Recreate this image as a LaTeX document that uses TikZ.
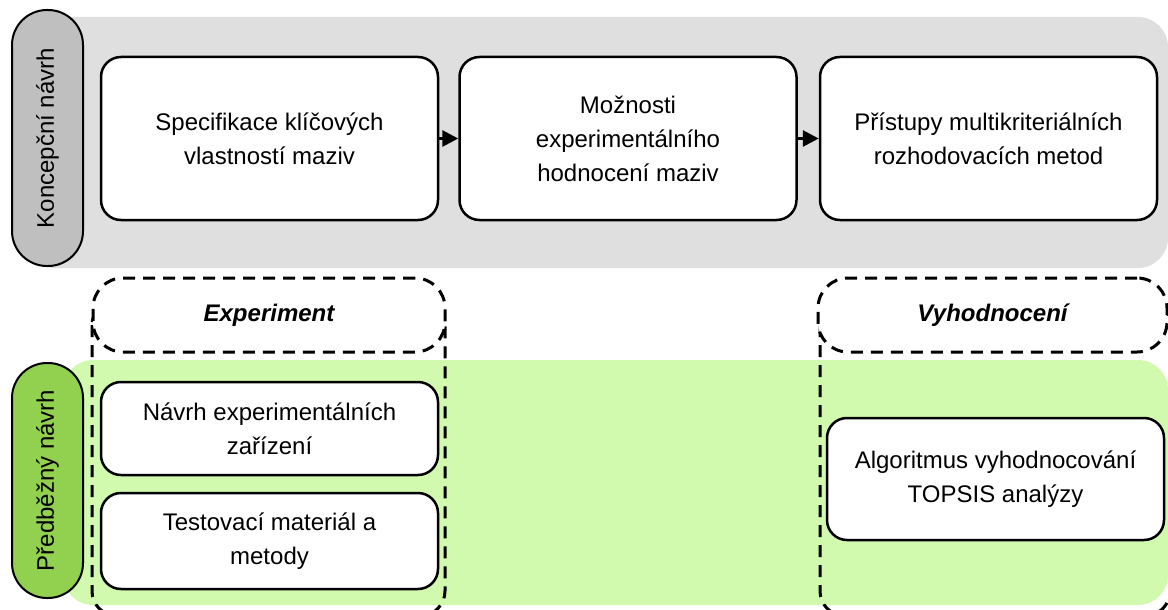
\documentclass[tikz,border=0pt]{standalone}
\usepackage{fontspec}
\setmainfont{Liberation Sans}
\usetikzlibrary{arrows.meta}
\definecolor{bandgray}{HTML}{DFDFDF}
\definecolor{pillgray}{HTML}{BFBFBF}
\definecolor{bandgreen}{HTML}{D2FAAE}
\definecolor{pillgreen}{HTML}{92D050}
\tikzset{
  txt/.style={font=\fontsize{24}{34}\selectfont},
  box/.style={txt, draw=black, line width=2.5pt, fill=white, rounded corners=20pt,
    inner sep=0pt, align=center, minimum width=337pt},
  pill/.style={txt, draw=black, line width=2pt, rounded corners=35pt, inner sep=0pt,
    minimum width=71pt, align=center},
  dashbox/.style={draw=black, line width=3pt, dash pattern=on 12pt off 8pt, rounded corners=30pt},
  flow/.style={line width=3pt, -{Triangle[length=16pt,width=16pt]}},
}
\begin{document}
\begin{tikzpicture}[x=1pt,y=-1pt]
\useasboundingbox (0,0) rectangle (1168,610);
\clip (0,0) rectangle (1168,610);
% bands
\fill[bandgray, rounded corners=30pt] (25,17) rectangle (1168,268);
\fill[bandgreen, rounded corners=30pt] (63,360) rectangle (1168,605);
% pills
\node[pill, fill=pillgray, minimum height=256pt] (p1) at (47.5,138) {};
\node[txt, rotate=90] (p1t) at (p1.center) {Koncepční návrh};
\node[pill, fill=pillgreen, minimum height=235pt] (p2) at (47.5,480.5) {};
\node[txt, rotate=90] (p2t) at (p2.center) {Předběžný návrh};
% dashed tall frames
\draw[dashbox, rounded corners=25pt] (92,300) rectangle (445,616);
\draw[dashbox, rounded corners=25pt] (820,300) rectangle (1170,616);
\node[dashbox, fill=white, minimum width=352pt, minimum height=74pt, inner sep=0pt]
  (expl) at (269,315) {};
\node[txt, font=\fontsize{24}{34}\selectfont\bfseries\itshape] (explt) at (expl.center) {Experiment};
\node[dashbox, fill=white, minimum width=349pt, minimum height=74pt, inner sep=0pt]
  (vyhl) at (992.5,315) {};
\node[txt, font=\fontsize{24}{34}\selectfont\bfseries\itshape] (vyhlt) at (vyhl.center) {Vyhodnocení};
% top boxes
\node[box, minimum height=163pt] (b1) at (269.5,138.5) {Specifikace klíčových\\vlastností maziv};
\node[box, minimum height=163pt] (b2) at (628,138.5) {Možnosti\\experimentálního\\hodnocení maziv};
\node[box, minimum height=163pt] (b3) at (988.5,138.5) {Přístupy multikriteriálních\\rozhodovacích metod};
\draw[flow] (b1.east) -- (b2.west);
\draw[flow] (b2.east) -- (b3.west);
% bottom boxes
\node[box, minimum height=93pt] (c1) at (269.5,428.5) {Návrh experimentálních\\zařízení};
\node[box, minimum height=96pt] (c2) at (269.5,541) {Testovací materiál a\\metody};
\node[box, minimum height=122pt] (c3) at (995.5,479) {Algoritmus vyhodnocování\\TOPSIS analýzy};
\end{tikzpicture}
\end{document}
